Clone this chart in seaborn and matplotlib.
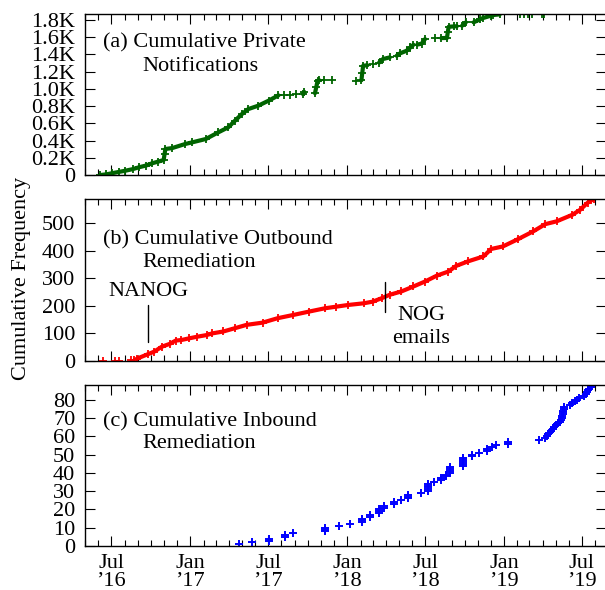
import numpy as np
import pandas as pd
import matplotlib
matplotlib.use("Agg")
import matplotlib.pyplot as plt
import matplotlib.dates as mdates
import matplotlib.ticker as mticker
import seaborn as sns

# ---------------- data ----------------
# (a) cumulative private notifications: dense runs (segment id) and sparse points
a_band_dates = ["2016-06-06", "2016-06-20", "2016-07-02", "2016-07-18", "2016-08-03", "2016-08-20",
                "2016-09-03", "2016-09-20", "2016-10-04", "2016-10-18", "2016-10-31", "2016-11-02",
                "2016-11-04", "2016-11-20", "2016-12-20", "2017-01-06", "2017-02-06", "2017-03-07",
                "2017-03-30", "2017-04-15", "2017-05-01", "2017-05-16", "2017-06-08", "2017-07-02",
                "2017-07-25",
                "2017-09-20", "2017-09-23",
                "2017-10-18", "2017-10-21", "2017-10-24", "2017-10-28",
                "2018-02-03", "2018-02-05", "2018-02-07", "2018-02-17",
                "2018-03-16", "2018-03-25", "2018-04-10",
                "2018-04-26", "2018-05-04", "2018-05-19", "2018-05-28", "2018-06-04",
                "2018-06-13", "2018-06-23", "2018-07-01",
                "2018-08-08", "2018-08-21", "2018-08-23", "2018-08-25", "2018-09-07", "2018-09-13",
                "2018-09-25", "2018-10-04",
                "2018-10-22", "2018-11-07", "2018-11-13", "2018-12-01", "2018-12-07", "2018-12-22"]
a_band_counts = [0, 8, 20, 35, 50, 68, 89, 110, 136, 155, 174, 240, 302, 313, 360, 380, 418, 495,
                 553, 631, 708, 766, 805, 863, 925,
                 940, 965,
                 950, 1020, 1095, 1100,
                 1100, 1185, 1269, 1275,
                 1305, 1347, 1366,
                 1385, 1413, 1443, 1482, 1513,
                 1515, 1525, 1579,
                 1590, 1592, 1660, 1722, 1726, 1728,
                 1733, 1773,
                 1773, 1811, 1823, 1850, 1858, 1866]
a_band_seg = [1] * 25 + [2] * 2 + [3] * 4 + [4] * 4 + [5] * 3 + [6] * 5 + [7] * 3 + [8] * 6 + [9] * 2 + [10] * 6
a_sparse_dates = ["2017-08-06", "2017-08-20", "2017-09-03", "2017-11-08", "2017-11-26", "2018-01-22",
                  "2018-03-02", "2018-07-25", "2019-02-08", "2019-02-17", "2019-02-26", "2019-03-07",
                  "2019-03-30", "2019-04-04"]
a_sparse_counts = [929, 929, 935, 1100, 1100, 1095, 1289, 1590, 1868, 1868, 1868, 1868, 1868, 1868]

# (b) cumulative outbound remediation
b_band_dates = ["2016-08-29", "2016-09-25", "2016-10-09", "2016-10-27", "2016-11-14", "2016-11-28",
                "2016-12-11", "2016-12-29", "2017-01-17", "2017-02-08", "2017-02-21", "2017-03-19",
                "2017-04-15", "2017-05-12", "2017-06-18", "2017-07-23", "2017-08-29", "2017-10-04",
                "2017-11-10", "2017-12-07", "2018-01-03", "2018-02-08", "2018-03-01", "2018-03-23",
                "2018-04-10", "2018-05-07", "2018-06-04", "2018-07-01", "2018-07-28", "2018-08-24",
                "2018-09-12", "2018-10-09", "2018-11-14", "2018-12-02", "2018-12-29", "2019-02-03",
                "2019-03-10", "2019-04-07", "2019-05-03", "2019-06-09", "2019-06-27", "2019-07-14",
                "2019-07-28"]
b_band_counts = [8, 25, 34, 52, 62, 74, 76, 82, 88, 94, 100, 107, 119, 131, 139, 155, 167, 179, 191,
                 197, 203, 209, 215, 228, 240, 252, 270, 288, 309, 324, 345, 361, 379, 406, 415, 442,
                 470, 496, 506, 530, 548, 573, 587]
b_sparse_dates = ["2016-06-13", "2016-07-10", "2016-07-19", "2016-08-15", "2016-08-24"]
b_sparse_counts = [0, 0, 0, 3, 5]

# (c) cumulative inbound remediation (individual events)
c_dates = ["2017-04-24", "2017-05-25", "2017-07-03", "2017-07-03", "2017-08-09", "2017-08-09",
           "2017-08-29", "2017-11-10", "2017-11-10", "2017-11-10", "2017-12-13", "2018-01-07",
           "2018-02-04", "2018-02-04", "2018-02-04", "2018-02-22", "2018-02-22", "2018-03-16",
           "2018-03-16", "2018-03-16", "2018-03-28", "2018-03-28", "2018-04-19", "2018-04-19",
           "2018-05-07", "2018-05-22", "2018-05-22", "2018-05-22", "2018-06-22", "2018-07-07",
           "2018-07-07", "2018-07-07", "2018-07-07", "2018-07-07", "2018-07-22", "2018-08-07",
           "2018-08-07", "2018-08-19", "2018-08-19", "2018-08-28", "2018-08-28", "2018-08-28",
           "2018-08-28", "2018-09-28", "2018-09-28", "2018-09-28", "2018-09-28", "2018-09-28",
           "2018-10-19", "2018-10-19", "2018-11-04", "2018-11-22", "2018-11-22", "2018-12-04",
           "2018-12-13", "2019-01-10", "2019-01-10", "2019-03-22", "2019-04-07", "2019-04-10",
           "2019-04-13", "2019-04-16", "2019-04-19", "2019-04-24", "2019-04-28", "2019-05-02",
           "2019-05-07", "2019-05-10", "2019-05-14", "2019-05-15", "2019-05-16", "2019-05-17",
           "2019-05-18", "2019-05-19", "2019-05-20", "2019-05-21", "2019-06-04", "2019-06-09",
           "2019-06-15", "2019-06-20", "2019-06-25", "2019-07-05", "2019-07-10", "2019-07-13",
           "2019-07-14", "2019-07-17", "2019-07-21"]
c_counts = list(range(1, 88))

# annotations in panel (b)
ann_dates = ["2016-09-25", "2018-03-31"]
ann_low = [70, 179]
ann_high = [203, 288]

# axis settings
x_start, x_end = "2016-05-01", "2019-08-26"
a_yticks = [0, 200, 400, 600, 800, 1000, 1200, 1400, 1600, 1800]
b_yticks = [0, 100, 200, 300, 400, 500]
c_yticks = [0, 10, 20, 30, 40, 50, 60, 70, 80]
a_ymax, b_ymax, c_ymax = 1870, 587, 88

GREEN, RED, BLUE = "#006400", "#ff0000", "#0000ff"
FS = 16

# ---------------- style ----------------
sns.set_theme(style="ticks")
plt.rcParams["font.family"] = ["Liberation Serif", "DejaVu Serif"]
plt.rcParams.update({
    "font.size": FS,
    "axes.edgecolor": "black",
    "axes.linewidth": 1.0,
    "xtick.color": "black",
    "ytick.color": "black",
    "text.color": "black",
    "axes.labelcolor": "black",
})

fig = plt.figure(figsize=(6.05, 5.9), dpi=100)
L = 85 / 605
W = 521 / 605
axA = fig.add_axes([L, 1 - 175 / 590, W, 161 / 590])
axB = fig.add_axes([L, 1 - 361 / 590, W, 162 / 590], sharex=axA)
axC = fig.add_axes([L, 1 - 546 / 590, W, 161 / 590], sharex=axA)


def band_df(dates, counts, seg):
    return pd.DataFrame({"date": pd.to_datetime(dates), "count": counts, "seg": seg})


dfA_band = band_df(a_band_dates, a_band_counts, a_band_seg)
dfA_all = pd.DataFrame({"date": pd.to_datetime(a_band_dates + a_sparse_dates),
                        "count": a_band_counts + a_sparse_counts})
dfB_band = band_df(b_band_dates, b_band_counts, [1] * len(b_band_dates))
dfB_all = pd.DataFrame({"date": pd.to_datetime(b_band_dates + b_sparse_dates),
                        "count": b_band_counts + b_sparse_counts})
dfC = pd.DataFrame({"date": pd.to_datetime(c_dates), "count": c_counts})

for ax, band, allpts, col in [(axA, dfA_band, dfA_all, GREEN), (axB, dfB_band, dfB_all, RED)]:
    sns.lineplot(data=band, x="date", y="count", units="seg", estimator=None, sort=False,
                 color=col, lw=3.0, ax=ax, legend=False)
    sns.scatterplot(data=allpts, x="date", y="count", marker="+", s=36, linewidth=1.3,
                    color=col, ax=ax, legend=False)
sns.scatterplot(data=dfC, x="date", y="count", marker="+", s=32, linewidth=1.4,
                color=BLUE, ax=axC, legend=False)

# annotation lines / texts in panel (b)
for d, lo, hi in zip(ann_dates, ann_low, ann_high):
    axB.plot([pd.Timestamp(d)] * 2, [lo, hi], color="black", lw=1.0)
axB.text(pd.Timestamp("2016-09-25"), 234, "NANOG", ha="center", va="baseline", fontsize=FS)
axB.text(pd.Timestamp("2018-06-22"), 147, "NOG", ha="center", va="baseline", fontsize=FS)
axB.text(pd.Timestamp("2018-06-22"), 65, "emails", ha="center", va="baseline", fontsize=FS)

# panel titles
titles = [(axA, "(a) Cumulative Private", "Notifications", 0.795, 0.649),
          (axB, "(b) Cumulative Outbound", "Remediation", 0.722, 0.583),
          (axC, "(c) Cumulative Inbound", "Remediation", 0.745, 0.609)]
for ax, l1, l2, y1, y2 in titles:
    ax.text(0.0346, y1, l1, transform=ax.transAxes, ha="left", va="baseline", fontsize=FS)
    ax.text(0.1096, y2, l2, transform=ax.transAxes, ha="left", va="baseline", fontsize=FS)

# axes formatting
axA.set_ylim(0, a_ymax)
axB.set_ylim(0, b_ymax)
axC.set_ylim(0, c_ymax)
axA.set_yticks(a_yticks)
axB.set_yticks(b_yticks)
axC.set_yticks(c_yticks)
axA.yaxis.set_major_formatter(mticker.FuncFormatter(
    lambda v, p: "0" if v == 0 else f"{v / 1000:.1f}K"))

axC.set_xlim(pd.Timestamp(x_start), pd.Timestamp(x_end))
axC.xaxis.set_major_locator(mdates.MonthLocator(bymonth=[1, 7]))
axC.xaxis.set_minor_locator(mdates.MonthLocator())


def xfmt(x, pos):
    d = mdates.num2date(x)
    return f"{d.strftime('%b')}\n\u2019{d.strftime('%y')}"


axC.xaxis.set_major_formatter(mticker.FuncFormatter(xfmt))

for ax in (axA, axB, axC):
    ax.set_xlabel("")
    ax.set_ylabel("")
    ax.tick_params(which="both", direction="in", top=True, right=True, width=0.8,
                   labelsize=FS)
    ax.tick_params(which="major", length=7.5, pad=7)
    ax.tick_params(which="minor", length=4)
    for s in ax.spines.values():
        s.set_visible(True)
        s.set_linewidth(1.0)
for ax in (axA, axB):
    ax.tick_params(labelbottom=False)
axC.tick_params(axis="x", pad=6)
for lbl in axC.get_xticklabels():
    lbl.set_linespacing(0.9)

fig.text(22 / 605, 1 - 278 / 590, "Cumulative Frequency", rotation=90,
         ha="center", va="center", fontsize=FS)

fig.savefig("out.png", dpi=100)
